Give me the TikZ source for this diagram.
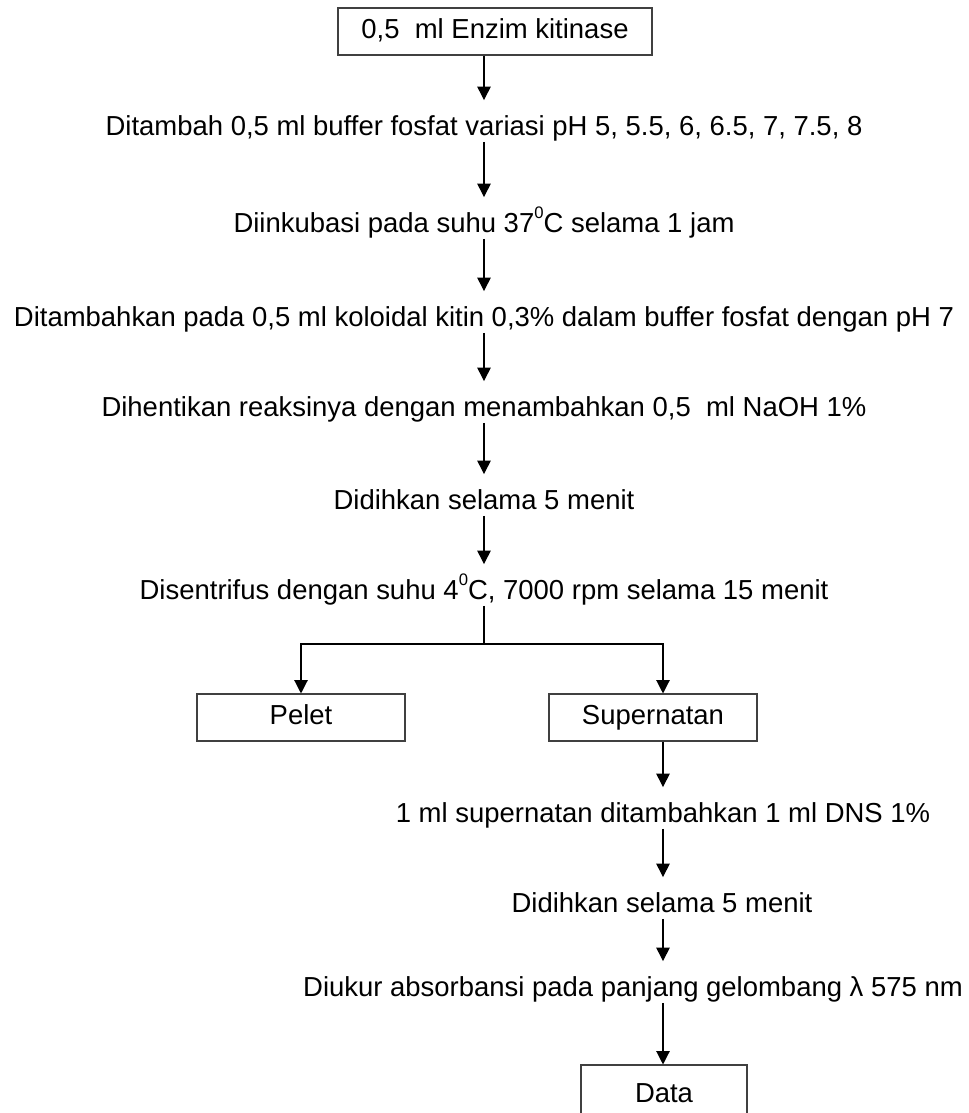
\documentclass[tikz,border=0pt]{standalone}
\usepackage{fontspec}
\setmainfont{Liberation Sans}
\usepackage{xcolor}
\definecolor{cLine}{HTML}{000000}
\definecolor{cBox}{HTML}{404040}
\usepackage{tikz}
\usetikzlibrary{positioning,arrows.meta,calc}
\newcommand{\derajat}{\raisebox{0.5em}{\fontsize{12.5}{12.5}\selectfont 0}}
\tikzset{
  node-box/.style={draw=cBox,line width=0.8pt,inner sep=0pt,
    text height=15pt,text depth=4pt,minimum height=35.25pt,align=center},
  node-step/.style={inner sep=0pt,text height=26pt,text depth=5pt,
    anchor=base,align=center},
  arrow/.style={-{Triangle[length=10pt,width=10pt]},line width=0.9pt,draw=cLine},
  stem/.style={line width=0.9pt,draw=cLine},
}

\begin{document}
\begin{tikzpicture}[x=0.75pt,y=-0.75pt,font=\fontsize{20.6}{24}\selectfont]
  \useasboundingbox (0,0) rectangle (968,1113);
  % kolom utama
  \node[node-box,minimum width=235.5pt] (enzim) at (495,31.5) {0,5\ \ ml Enzim kitinase};
  \node[node-step] (buffer)   at (484,135) {Ditambah 0,5 ml buffer fosfat variasi pH 5, 5.5, 6, 6.5, 7, 7.5, 8};
  \node[node-step] (inkubasi) at (484,232) {Diinkubasi pada suhu 37\derajat C selama 1 jam};
  \node[node-step] (kitin)    at (484,326) {Ditambahkan pada 0,5 ml koloidal kitin 0,3\% dalam buffer fosfat dengan pH 7};
  \node[node-step] (naoh)     at (484,416) {Dihentikan reaksinya dengan menambahkan 0,5\ \ ml NaOH 1\%};
  \node[node-step] (didih)    at (484,509) {Didihkan selama 5 menit};
  \node[node-step] (sentri)   at (484,599) {Disentrifus dengan suhu 4\derajat C, 7000 rpm selama 15 menit};
  % cabang
  \node[node-box,minimum width=156pt] (pelet) at (301,717.5) {Pelet};
  \node[node-box,minimum width=156pt] (super) at (653,717.5) {Supernatan};
  \coordinate (kanan) at (663,644);
  \coordinate (pisah) at (484,644);
  % kolom kanan
  \node[node-step] (dns)      at (663,822) {1 ml supernatan ditambahkan 1 ml DNS 1\%};
  \node[node-step] (didih2)   at (662,912) {Didihkan selama 5 menit};
  \node[node-step] (ukur)     at (633,996) {Diukur absorbansi pada panjang gelombang λ 575 nm};
  \node[node-box,minimum width=124.5pt,minimum height=45pt] (data) at (664,1095) {Data};

  \draw[arrow] (buffer.north |- enzim.south) -- (buffer.north);
  \draw[arrow] (buffer.south)   -- (inkubasi.north);
  \draw[arrow] (inkubasi.south) -- (kitin.north);
  \draw[arrow] (kitin.south)    -- (naoh.north);
  \draw[arrow] (naoh.south)     -- (didih.north);
  \draw[arrow] (didih.south)    -- (sentri.north);
  \draw[stem]  (sentri.south)   -- (pisah);
  \draw[arrow] (pisah) -| (pelet.north);
  \draw[arrow] (pisah) -| (kanan |- super.north);
  \draw[arrow] (kanan |- super.south) -- (kanan |- dns.north);
  \draw[arrow] (kanan |- dns.south)    -- (kanan |- didih2.north);
  \draw[arrow] (kanan |- didih2.south) -- (kanan |- ukur.north);
  \draw[arrow] (kanan |- ukur.south)   -- (kanan |- data.north);
\end{tikzpicture}
\end{document}
